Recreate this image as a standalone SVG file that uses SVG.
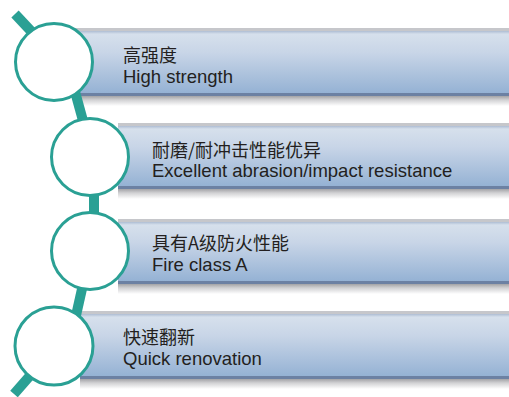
<svg xmlns="http://www.w3.org/2000/svg" width="509" height="397" viewBox="0 0 509 397">
<defs>
<linearGradient id="barFill" x1="0" y1="0" x2="0" y2="1">
<stop offset="0" stop-color="#aebdd3"/>
<stop offset="0.05" stop-color="#d6e0ec"/>
<stop offset="0.35" stop-color="#c8d5e7"/>
<stop offset="1" stop-color="#95b2d4"/>
</linearGradient>
<linearGradient id="barShadow" x1="0" y1="0" x2="0" y2="1">
<stop offset="0" stop-color="#a3a3a6"/>
<stop offset="0.4" stop-color="#d2d2d4"/>
<stop offset="1" stop-color="#ffffff"/>
</linearGradient>
<style>
.top{fill:#c6c7cb}
.fill{fill:url(#barFill)}
.edge{fill:#6c81a3}
.shadow{fill:url(#barShadow)}
.cn{font-family:"Noto Sans CJK SC","Noto Sans",sans-serif;font-size:18px;fill:#231f20}
.en{font-family:"Liberation Sans",Arial,sans-serif;font-size:18.5px;fill:#231f20}
.badge{fill:#ffffff;stroke:#2aa094;stroke-width:3}
.conn{stroke:#2aa094;stroke-width:10;fill:none;stroke-linecap:butt}
</style>
</defs>
<rect width="509" height="397" fill="#ffffff"/>

<g id="node-1">
<rect class="shadow" x="75" y="96" width="434" height="10"/>
<rect class="top" x="75" y="28" width="434" height="3"/>
<rect class="fill" x="75" y="31" width="434" height="62"/>
<rect class="edge" x="75" y="93" width="434" height="3"/>
<text class="cn" x="123" y="62">高强度</text>
<text class="en" x="123" y="83">High strength</text>
</g>

<g id="node-2">
<rect class="shadow" x="118" y="189" width="391" height="10"/>
<rect class="top" x="118" y="123" width="391" height="3"/>
<rect class="fill" x="118" y="126" width="391" height="60"/>
<rect class="edge" x="118" y="186" width="391" height="3"/>
<text class="cn" x="152" y="157">耐磨/耐冲击性能优异</text>
<text class="en" x="152" y="177">Excellent abrasion/impact resistance</text>
</g>

<g id="node-3">
<rect class="shadow" x="118" y="284" width="391" height="10"/>
<rect class="top" x="118" y="219" width="391" height="3"/>
<rect class="fill" x="118" y="222" width="391" height="59"/>
<rect class="edge" x="118" y="281" width="391" height="3"/>
<text class="cn" x="152" y="250">具有A级防火性能</text>
<text class="en" x="152" y="271">Fire class A</text>
</g>

<g id="node-4">
<rect class="shadow" x="80" y="379" width="429" height="10"/>
<rect class="top" x="80" y="311" width="429" height="3"/>
<rect class="fill" x="80" y="314" width="429" height="62"/>
<rect class="edge" x="80" y="376" width="429" height="3"/>
<text class="cn" x="123" y="344">快速翻新</text>
<text class="en" x="123" y="365">Quick renovation</text>
</g>

<g id="connectors">
<path class="conn" d="M15,14 L45,46" stroke-linecap="round"/>
<path class="conn" d="M74,88 L85,128"/>
<path class="conn" d="M94,188 L94,216"/>
<path class="conn" d="M84,280 L75,320"/>
<path class="conn" d="M42,362 L14,394" stroke-linecap="round"/>
</g>

<g id="badge-1"><circle class="badge" cx="54" cy="62" r="38.5"/></g>
<g id="badge-2"><circle class="badge" cx="90" cy="157" r="38.5"/></g>
<g id="badge-3"><circle class="badge" cx="90" cy="251" r="38.5"/></g>
<g id="badge-4"><circle class="badge" cx="54" cy="346" r="39"/></g>
</svg>
